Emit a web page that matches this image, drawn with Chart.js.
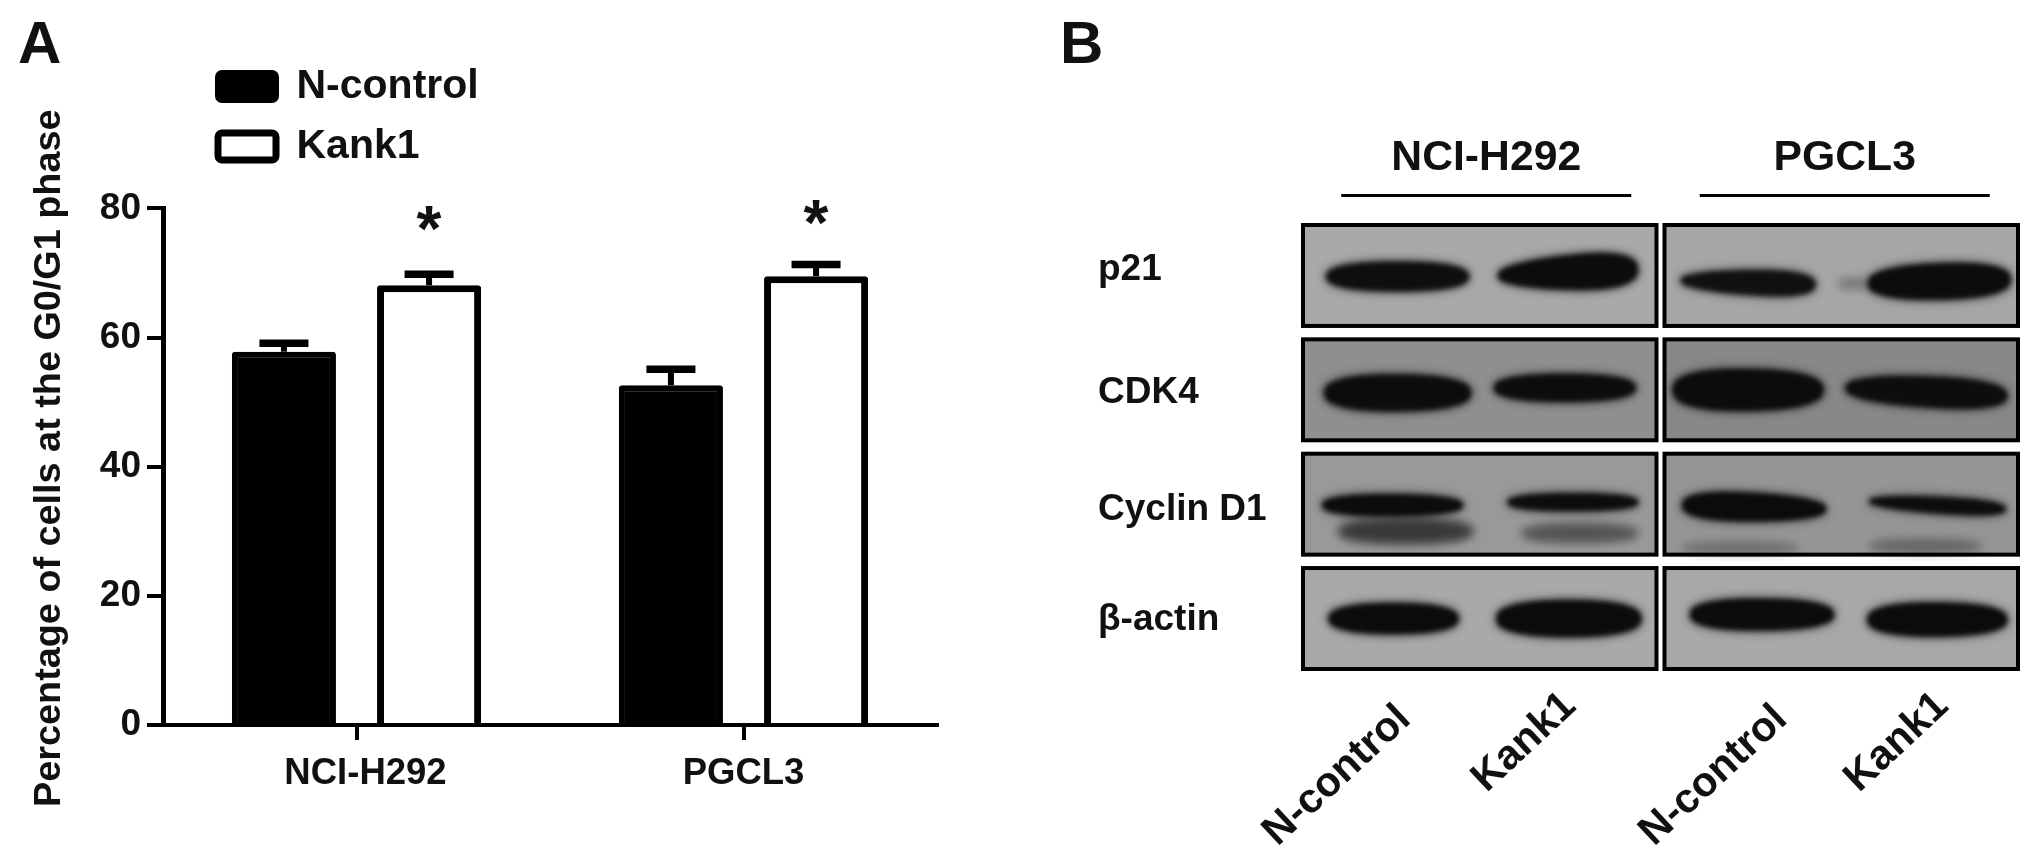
<!DOCTYPE html>
<html><head><meta charset="utf-8">
<style>
html,body{margin:0;padding:0;background:#fff;width:2031px;height:853px;overflow:hidden}
canvas{position:absolute;top:0;filter:blur(0.6px)}
#a{left:0}#b{left:1040px}
</style>
<script src="https://cdn.jsdelivr.net/npm/chart.js@4"></script>
</head><body>
<canvas id="a" width="1040" height="853"></canvas>
<canvas id="b" width="991" height="853"></canvas>
<script>
// ---- Panel A data
const cellLines = ['NCI-H292', 'PGCL3'];
const seriesNames = ['N-control', 'Kank1'];
const nControl = [57.8, 52.6];
const kank1 = [68.1, 69.5];
const nControlUpper = [59.1, 55.1];
const kank1Upper = [69.8, 71.3];
const starLevels = [78.5, 79.3];
const yTicks = [0, 20, 40, 60, 80];
const yTitle = 'Percentage of cells at the G0/G1 phase';
// ---- Panel B data (relative band density read by eye)
const proteins = ['p21', 'CDK4', 'Cyclin D1', 'β-actin'];
const laneNames = ['N-control', 'Kank1', 'N-control', 'Kank1'];
const mainDensity = [
  [0.94, 0.98, 0.92, 0.98],
  [0.97, 0.97, 0.98, 0.95],
  [0.98, 0.97, 0.99, 0.97],
  [0.99, 0.99, 0.99, 0.99]
];
const lowerDensity = [
  [0, 0, 0, 0.22],
  [0, 0, 0, 0],
  [0.55, 0.38, 0.2, 0.24],
  [0, 0, 0, 0]
];
// ---- Styles (band outlines relative to each lane/row cell, not data)
const ink = '#111111';
const fontFam = '"Liberation Sans", Arial, sans-serif';
const proteinLabelNudge = [-6, 3, 6, 1];
const laneLabelNudge = [[0, -4], [-14, -17], [18, -4], [0, -17]];
const blotShades = [['#a9a9a9','#a6a6a6'],['#8f8f8f','#888888'],['#999999','#959595'],['#a9a9a9','#a8a8a8']];
// [offsetX, offsetY, width, leftHeight, rightHeight, tilt]
const mainShapes = [
  [[6,1,146,32,32,0], [-3,-3,143,27,46,-3], [-2,7,138,21,33,2], [10,6,146,37,40,-2]],
  [[6,3,150,40,38,0], [-6,-2,145,30,30,0], [-2,0,154,46,42,0], [-3,2,165,30,36,4]],
  [[1,1,144,25,23,0], [2,-2,134,20,20,0], [4,3,147,35,26,2], [8,1,140,16,21,4]],
  [[2,0,133,33,33,0], [-2,0,148,39,39,0], [12,-4,147,35,33,0], [8,1,143,37,35,0]]
];
const lowerShapes = [
  [null, null, null, [-76,8,32,12,12,0]],
  [null, null, null, null],
  [[14,27,136,26,26,0], [9,29,118,20,20,0], [-10,44,118,14,14,0], [-4,42,114,16,16,0]],
  [null, null, null, null]
];

function bandCanvas(shape, density, coreBlur) {
  const c = document.createElement('canvas');
  c.width = 300; c.height = 160;
  const g = c.getContext('2d');
  const [ox, oy, w, hL, hR, tilt] = shape;
  const p = 2.4;
  const blob = (grow) => {
    const top = [], bot = [];
    for (let i = 0; i <= 60; i++) {
      const t = i / 30 - 1;
      const prof = Math.pow(1 - Math.pow(Math.abs(t), p), 1 / p);
      const half = ((hL + (hR - hL) * (t + 1) / 2) / 2 + grow) * prof;
      const px = 150 + ox + t * (w / 2 + grow);
      const py = 80 + oy + tilt * t;
      top.push([px, py - half]);
      bot.unshift([px, py + half]);
    }
    g.beginPath();
    top.concat(bot).forEach(([a, b]) => g.lineTo(a, b));
    g.closePath();
    g.fill();
  };
  g.fillStyle = '#0a0a0a';
  g.filter = 'blur(5px)'; g.globalAlpha = 0.5 * density;
  blob(1);
  g.filter = 'blur(' + coreBlur + 'px)'; g.globalAlpha = density;
  blob(-1);
  return c;
}

// ---- Panel A
const barExtras = {
  id: 'barExtras',
  beforeDraw(chart) {
    const s = chart.scales.y;
    if (!s._shifted) {
      s._shifted = true;
      const orig = s.drawTitle;
      s.drawTitle = function () {
        chart.ctx.save(); chart.ctx.translate(0, -8.5); orig.call(this); chart.ctx.restore();
      };
      chart.scales.x.getLabelItems(chart.chartArea)[0].options.translation[0] += 9;
    }
  },
  afterLayout(chart) {
    const l = chart.legend;
    const w = l.right - l.left, h = l.bottom - l.top;
    l.left = 199; l.right = l.left + w;
    l.top = 47; l.bottom = l.top + h;
    l.adjustHitBoxes();
  },
  afterDatasetsDraw(chart) {
    const ctx = chart.ctx, y = chart.scales.y;
    [nControlUpper, kank1Upper].forEach((upper, di) => {
      chart.getDatasetMeta(di).data.forEach((bar, i) => {
        const yv = y.getPixelForValue(upper[i]);
        ctx.save();
        ctx.strokeStyle = '#000';
        ctx.lineWidth = 6;
        ctx.beginPath(); ctx.moveTo(bar.x, yv); ctx.lineTo(bar.x, bar.y); ctx.stroke();
        ctx.lineWidth = 7.5;
        ctx.beginPath(); ctx.moveTo(bar.x - 24.5, yv); ctx.lineTo(bar.x + 24.5, yv); ctx.stroke();
        ctx.restore();
      });
    });
    chart.getDatasetMeta(1).data.forEach((bar, i) => {
      ctx.save();
      ctx.font = 'bold 64px ' + fontFam;
      ctx.fillStyle = ink;
      ctx.textAlign = 'center';
      ctx.textBaseline = 'alphabetic';
      const m = ctx.measureText('*');
      ctx.fillText('*', bar.x, y.getPixelForValue(starLevels[i]) + (m.actualBoundingBoxAscent - m.actualBoundingBoxDescent) / 2);
      ctx.restore();
    });
    ctx.save();
    ctx.font = 'bold 60px ' + fontFam;
    ctx.fillStyle = ink;
    ctx.textBaseline = 'alphabetic';
    ctx.fillText('A', 18, 63);
    ctx.restore();
  }
};
new Chart(document.getElementById('a'), {
  type: 'bar',
  data: {
    labels: cellLines,
    datasets: [
      { label: seriesNames[0], data: nControl, backgroundColor: '#000', borderColor: '#000', borderWidth: 6,
        borderRadius: 3, borderSkipped: 'bottom', categoryPercentage: 0.75, barPercentage: 0.717 },
      { label: seriesNames[1], data: kank1, backgroundColor: '#fff', borderColor: '#000', borderWidth: 7,
        borderRadius: 3, borderSkipped: 'bottom', categoryPercentage: 0.75, barPercentage: 0.717 }
    ]
  },
  options: {
    responsive: false, animation: false,
    layout: { autoPadding: false, padding: { top: 208.4, right: 103, left: 0, bottom: 0 } },
    scales: {
      x: {
        afterFit(s) { s.height = 128; },
        grid: { offset: false, drawOnChartArea: false, drawTicks: true, tickLength: 15, tickWidth: 4, tickColor: '#000', lineWidth: 4 },
        border: { color: '#000', width: 4, z: 2 },
        ticks: { color: ink, font: { family: fontFam, size: 36.5, weight: 'bold' }, padding: 12, maxRotation: 0, autoSkip: false }
      },
      y: {
        min: 0, max: 80,
        afterFit(s) { s.width = 163; },
        afterBuildTicks(s) { s.ticks = yTicks.map(v => ({ value: v })); },
        grid: { drawOnChartArea: false, drawTicks: true, tickLength: 16, tickWidth: 4, tickColor: '#000', lineWidth: 4 },
        border: { color: '#000', width: 5, z: 2 },
        ticks: { color: ink, font: { family: fontFam, size: 37, weight: 'bold' }, padding: 6 },
        title: { display: true, text: yTitle, color: ink, font: { family: fontFam, size: 37.8, weight: 'bold' }, padding: { top: 27, bottom: 0 } }
      }
    },
    plugins: {
      tooltip: { enabled: false },
      legend: {
        position: 'chartArea', align: 'start',
        labels: { color: ink, font: { family: fontFam, size: 41, weight: 'bold' }, boxWidth: 58, boxHeight: 27, padding: 19, useBorderRadius: true, borderRadius: 4 }
      }
    }
  },
  plugins: [barExtras]
});

// ---- Panel B
const blotExtras = {
  id: 'blotExtras',
  beforeDraw(chart) {
    const s = chart.scales.y;
    if (!s._nudged) {
      s._nudged = true;
      s.getLabelItems(chart.chartArea).forEach((it, i) => { it.options.translation[1] += proteinLabelNudge[i]; });
      chart.scales.x.getLabelItems(chart.chartArea).forEach((it, i) => {
        it.options.translation[0] += laneLabelNudge[i][0];
        it.options.translation[1] += laneLabelNudge[i][1];
      });
    }
  },
  beforeDatasetsDraw(chart) {
    const ctx = chart.ctx, x = chart.scales.x, y = chart.scales.y;
    ctx.save();
    proteins.forEach((_, r) => {
      [[-0.5, 1.5], [1.5, 3.5]].forEach(([a, b], p) => {
        const l = x.getPixelForValue(a) + (p ? 3 : 0), rgt = x.getPixelForValue(b) - (p ? 0 : 3);
        const t = y.getPixelForValue(r - 0.5) + 5.7, bt = y.getPixelForValue(r + 0.5) - 5.7;
        ctx.fillStyle = blotShades[r][p];
        ctx.fillRect(l, t, rgt - l, bt - t);
      });
    });
    ctx.restore();
  },
  afterDatasetsDraw(chart) {
    const ctx = chart.ctx, x = chart.scales.x, y = chart.scales.y, top = chart.scales.xTop;
    ctx.save();
    ctx.strokeStyle = '#000';
    ctx.lineWidth = 4;
    proteins.forEach((_, r) => {
      [[-0.5, 1.5], [1.5, 3.5]].forEach(([a, b], p) => {
        const l = x.getPixelForValue(a) + (p ? 3 : 0), rgt = x.getPixelForValue(b) - (p ? 0 : 3);
        const t = y.getPixelForValue(r - 0.5) + 5.7, bt = y.getPixelForValue(r + 0.5) - 5.7;
        ctx.strokeRect(l + 1, t + 1, rgt - l - 2, bt - t - 2);
      });
    });
    ctx.lineWidth = 3;
    cellLines.forEach((_, i) => {
      const cx = top.getPixelForValue(i) + 5;
      ctx.beginPath(); ctx.moveTo(cx - 145, 195.5); ctx.lineTo(cx + 145, 195.5); ctx.stroke();
    });
    ctx.font = 'bold 60px ' + fontFam;
    ctx.fillStyle = ink;
    ctx.fillText('B', 20, 63);
    ctx.restore();
  }
};
const bandPoints = (density) => {
  const pts = [];
  density.forEach((row, r) => row.forEach((v, l) => { if (v > 0) pts.push({ x: l, y: r, density: v }); }));
  return pts;
};
const bandDataset = (density, shapes, coreBlur) => {
  const pts = bandPoints(density);
  const imgs = pts.map(p => bandCanvas(shapes[p.y][p.x], p.density, coreBlur));
  return { data: pts, pointRadius: 10, pointHoverRadius: 10, borderWidth: 0, pointBorderWidth: 0, clip: false,
           pointStyle: ctx => imgs[ctx.dataIndex] };
};
new Chart(document.getElementById('b'), {
  type: 'scatter',
  data: { datasets: [bandDataset(lowerDensity, lowerShapes, 5), bandDataset(mainDensity, mainShapes, 2.5)] },
  options: {
    responsive: false, animation: false,
    layout: { autoPadding: false, padding: { top: 0, right: 12, left: 58, bottom: 0 } },
    scales: {
      x: {
        type: 'linear', position: 'bottom', min: -0.5, max: 3.5,
        afterFit(s) { s.height = 177.3; },
        afterBuildTicks(s) { s.ticks = laneNames.map((_, i) => ({ value: i })); },
        grid: { display: false }, border: { display: false },
        ticks: { callback: v => laneNames[v], color: ink, font: { family: fontFam, size: 41.5, weight: 'bold' },
                 minRotation: 43, maxRotation: 43, autoSkip: false, padding: 15, labelOffset: 13 }
      },
      xTop: {
        type: 'category', position: 'top', labels: cellLines, offset: true,
        afterFit(s) { s.height = 218.3; },
        grid: { display: false }, border: { display: false },
        ticks: { color: ink, font: { family: fontFam, size: 42.7, weight: 'bold' }, maxRotation: 0, autoSkip: false, padding: 26, labelOffset: 5 }
      },
      y: {
        type: 'linear', position: 'left', reverse: true, min: -0.5, max: 3.5,
        afterFit(s) { s.width = 204; },
        afterBuildTicks(s) { s.ticks = proteins.map((_, i) => ({ value: i })); },
        grid: { display: false }, border: { display: false },
        ticks: { callback: v => proteins[v], color: ink, font: { family: fontFam, size: 37, weight: 'bold' }, crossAlign: 'far', autoSkip: false }
      }
    },
    plugins: { legend: { display: false }, tooltip: { enabled: false } }
  },
  plugins: [blotExtras]
});
</script>
</body></html>
